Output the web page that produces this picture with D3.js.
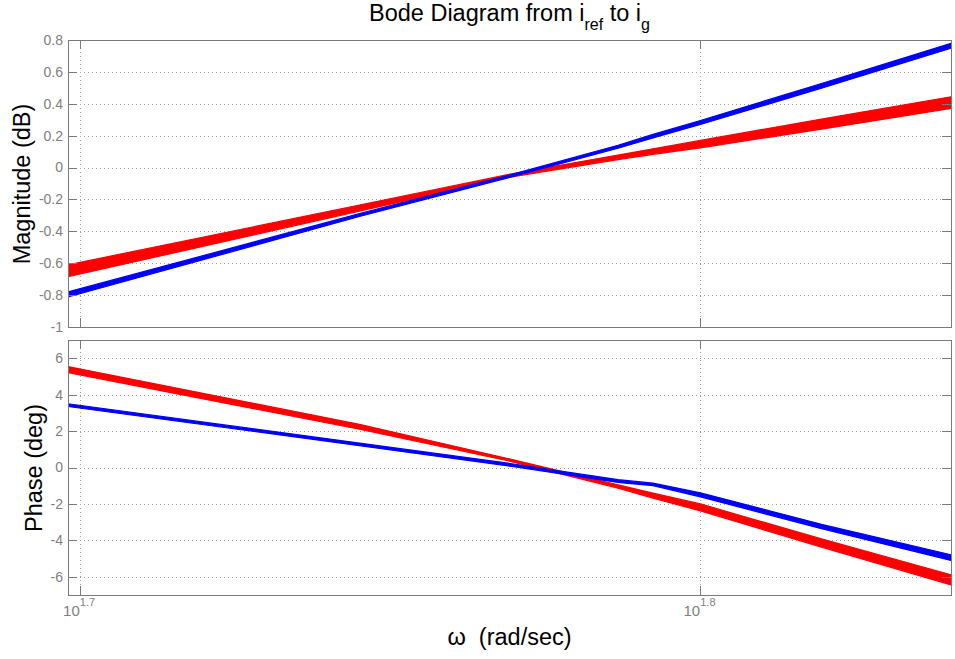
<!DOCTYPE html>
<html>
<head>
<meta charset="utf-8">
<script src="https://cdn.jsdelivr.net/npm/d3@7/dist/d3.min.js"></script>
<style>
  body { margin: 0; background: #fff; }
  svg { font-family: 'Liberation Sans', Arial, Helvetica, sans-serif; }
  .tick-label { fill: #808080; font-size: 14px; }
  .axis-label { fill: #000; font-size: 23.5px; }
</style>
</head>
<body>
<script>
// Frequency samples (rad/sec)
const omega = [49.9, 55.6, 58.8, 61.2, 62.0, 63.1, 66.0, 69.25];

// Magnitude (dB): upper / lower edge of each response band
const magRedHi  = [-0.610, -0.235, -0.041, 0.078, 0.118, 0.170, 0.304, 0.444];
const magRedLo  = [-0.685, -0.273, -0.060, 0.050, 0.083, 0.124, 0.241, 0.371];
const magBlueHi = [-0.780, -0.289, -0.046, 0.140, 0.208, 0.295, 0.527, 0.779];
const magBlueLo = [-0.812, -0.307, -0.061, 0.121, 0.186, 0.270, 0.498, 0.748];

// Phase (deg): upper / lower edge of each response band
const phRedHi  = [5.54, 2.37, 0.46, -0.95, -1.41, -2.00, -3.92, -5.89];
const phRedLo  = [5.21, 2.10, 0.34, -1.13, -1.68, -2.38, -4.37, -6.44];
const phBlueHi = [3.50, 1.34, 0.22, -0.67, -0.86, -1.39, -3.12, -4.79];
const phBlueLo = [3.35, 1.20, 0.07, -0.82, -1.00, -1.61, -3.36, -5.10];

// Axis ranges and ticks
const freqRange = [49.9, 69.25];
const freqExps = [1.7, 1.8];
const magRange = [-1, 0.8];
const magTicks = [-1, -0.8, -0.6, -0.4, -0.2, 0, 0.2, 0.4, 0.6, 0.8];
const phRange = [-7, 7];
const phTicks = [-6, -4, -2, 0, 2, 4, 6];

const W = 955, H = 659;
const left = 68, right = 951;
const tickLen = 9;
const frameColour = '#7a7a7a';

const svg = d3.select('body').append('svg')
    .attr('width', W)
    .attr('height', H);

const x = d3.scaleLog().domain(freqRange).range([left, right]);

function drawPanel(id, top, bottom, yDomain, yTicks, bands, showXLabels) {
    const y = d3.scaleLinear().domain(yDomain).range([bottom, top]);
    const g = svg.append('g');

    svg.append('clipPath').attr('id', id)
        .append('rect')
        .attr('x', left).attr('y', top)
        .attr('width', right - left + 1).attr('height', bottom - top + 1);

    // Dotted grid
    g.selectAll('line.hgrid').data(yTicks).enter().append('line')
        .attr('x1', left).attr('x2', right)
        .attr('y1', d => Math.round(y(d)) + 0.5).attr('y2', d => Math.round(y(d)) + 0.5)
        .attr('stroke', '#a0a0a0').attr('stroke-dasharray', '1,3');
    g.selectAll('line.vgrid').data(freqExps).enter().append('line')
        .attr('x1', d => Math.round(x(Math.pow(10, d))) + 0.5)
        .attr('x2', d => Math.round(x(Math.pow(10, d))) + 0.5)
        .attr('y1', top).attr('y2', bottom)
        .attr('stroke', '#a0a0a0').attr('stroke-dasharray', '1,3');

    // Response bands
    const bandG = g.append('g').attr('clip-path', `url(#${id})`);
    bands.forEach(b => {
        const pts = omega.map((w, i) => ({ w: w, hi: b.hi[i], lo: b.lo[i] }));
        const area = d3.area()
            .x(d => x(d.w))
            .y0(d => y(d.lo))
            .y1(d => y(d.hi));
        bandG.append('path')
            .datum(pts)
            .attr('d', area)
            .attr('fill', b.colour)
            .attr('stroke', b.colour)
            .attr('stroke-width', 1.2)
            .attr('stroke-linejoin', 'round');
    });

    // Inward ticks on all four sides
    const ticks = g.append('g').attr('stroke', frameColour);
    yTicks.forEach(d => {
        const yy = Math.round(y(d)) + 0.5;
        ticks.append('line').attr('x1', left).attr('x2', left + tickLen).attr('y1', yy).attr('y2', yy);
        ticks.append('line').attr('x1', right - tickLen).attr('x2', right).attr('y1', yy).attr('y2', yy);
    });
    freqExps.forEach(d => {
        const xx = Math.round(x(Math.pow(10, d))) + 0.5;
        ticks.append('line').attr('x1', xx).attr('x2', xx).attr('y1', top).attr('y2', top + tickLen);
        ticks.append('line').attr('x1', xx).attr('x2', xx).attr('y1', bottom - tickLen).attr('y2', bottom);
    });

    // Frame
    g.append('rect')
        .attr('x', left + 0.5).attr('y', top + 0.5)
        .attr('width', right - left).attr('height', bottom - top)
        .attr('fill', 'none').attr('stroke', frameColour);

    // Y tick labels
    g.selectAll('text.ylab').data(yTicks).enter().append('text')
        .attr('class', 'tick-label')
        .attr('x', left - 5)
        .attr('y', d => y(d))
        .attr('dy', '0.35em')
        .attr('text-anchor', 'end')
        .text(d => String(+d.toFixed(1)));

    // X tick labels as powers of ten
    if (showXLabels) {
        freqExps.forEach(d => {
            const xx = x(Math.pow(10, d));
            g.append('text')
                .attr('class', 'tick-label')
                .style('font-size', '15px')
                .attr('x', xx)
                .attr('y', bottom + 21)
                .attr('text-anchor', 'end')
                .text('10');
            g.append('text')
                .attr('class', 'tick-label')
                .style('font-size', '11px')
                .attr('x', xx)
                .attr('y', bottom + 11)
                .text(d.toFixed(1));
        });
    }
    return y;
}

drawPanel('clip-mag', 40, 327, magRange, magTicks, [
    { hi: magRedHi, lo: magRedLo, colour: '#ff0000' },
    { hi: magBlueHi, lo: magBlueLo, colour: '#0000ff' }
], false);

drawPanel('clip-phase', 340, 595, phRange, phTicks, [
    { hi: phRedHi, lo: phRedLo, colour: '#ff0000' },
    { hi: phBlueHi, lo: phBlueLo, colour: '#0000ff' }
], true);

// Title with subscripts
const title = svg.append('text')
    .attr('class', 'axis-label')
    .attr('x', (left + right) / 2)
    .attr('y', 21)
    .attr('text-anchor', 'middle');
title.append('tspan').text('Bode Diagram from i');
title.append('tspan').attr('dy', 9).style('font-size', '16px').text('ref');
title.append('tspan').attr('dy', -9).text(' to i');
title.append('tspan').attr('dy', 9).style('font-size', '16px').text('g');

// Axis labels
svg.append('text')
    .attr('class', 'axis-label')
    .attr('transform', 'translate(30,184) rotate(-90)')
    .attr('text-anchor', 'middle')
    .text('Magnitude (dB)');

svg.append('text')
    .attr('class', 'axis-label')
    .attr('transform', 'translate(42,468) rotate(-90)')
    .attr('text-anchor', 'middle')
    .text('Phase (deg)');

svg.append('text')
    .attr('class', 'axis-label')
    .attr('x', (left + right) / 2)
    .attr('y', 645)
    .attr('text-anchor', 'middle')
    .attr('xml:space', 'preserve')
    .text('\u03c9  (rad/sec)');
</script>
</body>
</html>
